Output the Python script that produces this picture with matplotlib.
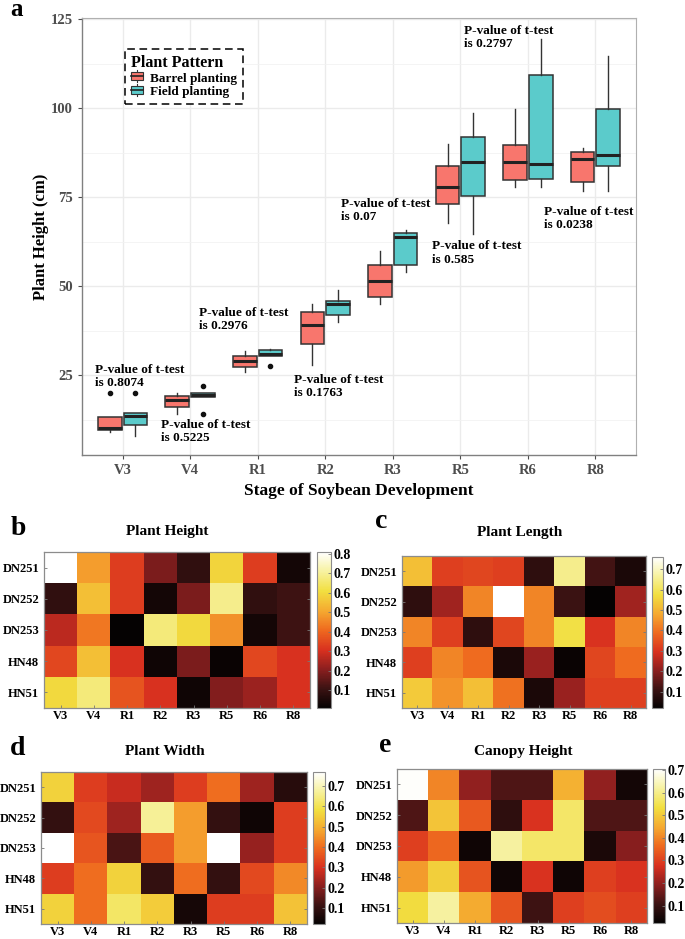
import matplotlib
matplotlib.use("Agg")
import matplotlib.pyplot as plt
import numpy as np
from matplotlib.patches import Rectangle
from matplotlib.lines import Line2D
from matplotlib.colors import LinearSegmentedColormap
from matplotlib.ticker import MultipleLocator

plt.rcParams['font.family'] = ['Liberation Serif', 'DejaVu Serif']
plt.rcParams['font.weight'] = 'bold'

STAGES = ["V3", "V4", "R1", "R2", "R3", "R5", "R6", "R8"]
CULTIVARS = ["DN251", "DN252", "DN253", "HN48", "HN51"]

# panel a - box stats (cm)
barrel_whislo = [9.0, 14.2, 26.0, 27.9, 45.0, 67.8, 77.9, 76.8]
barrel_q1 = [9.5, 16.0, 27.4, 33.9, 47.1, 73.0, 79.8, 79.3]
barrel_med = [10.3, 18.0, 28.9, 39.0, 51.4, 77.8, 84.8, 85.9]
barrel_q3 = [13.3, 19.2, 30.5, 42.8, 56.1, 83.9, 89.8, 87.7]
barrel_whishi = [13.3, 19.9, 31.9, 45.0, 59.8, 89.9, 99.7, 88.8]
barrel_fliers = [[20.0], [], [], [], [], [], [], []]

field_whislo = [8.0, 18.9, 30.4, 40.0, 53.9, 64.8, 77.9, 76.8]
field_q1 = [11.0, 18.9, 30.4, 41.9, 55.9, 75.4, 80.1, 83.9]
field_med = [13.6, 19.4, 31.1, 44.9, 63.9, 84.8, 84.5, 86.8]
field_q3 = [14.3, 20.0, 32.0, 45.9, 65.1, 91.9, 109.3, 99.8]
field_whishi = [14.5, 20.0, 32.4, 48.9, 65.9, 98.8, 119.6, 114.8]
field_fliers = [[20.0], [22.1, 14.1], [27.5], [], [], [], [], []]

p_values = ["0.8074", "0.5225", "0.2976", "0.1763", "0.07", "0.585", "0.2797", "0.0238"]
p_x = [0.59, 1.57, 2.13, 3.54, 4.24, 5.58, 6.05, 7.24]
p_y = [28.3, 12.8, 44.2, 25.5, 74.9, 62.9, 123.5, 72.7]

# heatmaps (rows = cultivars, cols = stages)
height_vals = np.array([
    [0.81, 0.49, 0.33, 0.19, 0.09, 0.59, 0.33, 0.04],
    [0.09, 0.55, 0.33, 0.04, 0.19, 0.69, 0.09, 0.11],
    [0.27, 0.43, 0.01, 0.67, 0.60, 0.47, 0.04, 0.11],
    [0.35, 0.55, 0.31, 0.03, 0.19, 0.02, 0.35, 0.31],
    [0.60, 0.67, 0.37, 0.31, 0.03, 0.20, 0.23, 0.31]])
length_vals = np.array([
    [0.52, 0.32, 0.33, 0.32, 0.09, 0.65, 0.12, 0.06],
    [0.09, 0.23, 0.43, 0.76, 0.43, 0.11, 0.02, 0.23],
    [0.43, 0.32, 0.09, 0.33, 0.43, 0.58, 0.30, 0.43],
    [0.32, 0.43, 0.39, 0.06, 0.22, 0.03, 0.33, 0.39],
    [0.54, 0.45, 0.52, 0.40, 0.06, 0.22, 0.32, 0.32]])
width_vals = np.array([
    [0.56, 0.32, 0.28, 0.23, 0.32, 0.40, 0.23, 0.08],
    [0.10, 0.34, 0.23, 0.67, 0.47, 0.10, 0.04, 0.32],
    [0.77, 0.36, 0.13, 0.37, 0.47, 0.77, 0.22, 0.32],
    [0.32, 0.40, 0.56, 0.10, 0.40, 0.10, 0.34, 0.44],
    [0.56, 0.40, 0.62, 0.55, 0.05, 0.32, 0.32, 0.53]])
canopy_vals = np.array([
    [0.70, 0.40, 0.20, 0.13, 0.13, 0.46, 0.20, 0.05],
    [0.13, 0.49, 0.34, 0.09, 0.28, 0.57, 0.13, 0.13],
    [0.30, 0.36, 0.04, 0.62, 0.57, 0.57, 0.06, 0.19],
    [0.43, 0.51, 0.33, 0.04, 0.28, 0.04, 0.30, 0.28],
    [0.53, 0.62, 0.45, 0.33, 0.11, 0.30, 0.32, 0.30]])

RED = "#F8766D"
CYAN = "#5BCBCB"
W, H = 685, 939

# a slightly muted "hot" like the scanned matlab colorbars
HOT = LinearSegmentedColormap.from_list("mhot", [
    (0.00, "#050202"), (0.12, "#3a1212"), (0.25, "#8c1f1f"), (0.37, "#d8301f"),
    (0.50, "#ef6a1f"), (0.62, "#f5a830"), (0.75, "#f2df40"), (0.88, "#f7f2a2"),
    (1.00, "#ffffff")])


def px_rect(left, top, right, bottom):
    # pixel box -> figure fraction
    return [left / W, 1 - bottom / H, (right - left) / W, (bottom - top) / H]


def box_stats(lo, q1, med, q3, hi, fl):
    return [dict(whislo=a, q1=b, med=c, q3=d, whishi=e, fliers=f)
            for a, b, c, d, e, f in zip(lo, q1, med, q3, hi, fl)]


class BoxKeyHandler:
    def legend_artist(self, legend, orig_handle, fontsize, handlebox):
        x0, y0 = handlebox.xdescent, handlebox.ydescent
        w, h = handlebox.width, handlebox.height
        cx = x0 + w / 2
        whisk = Line2D([cx, cx], [y0 - 1, y0 + h + 1], color="#333333", lw=0.8,
                       transform=handlebox.get_transform())
        rect = Rectangle((x0, y0 + 0.5), w, h - 1, facecolor=orig_handle.get_color(),
                         edgecolor="#333333", lw=0.8, transform=handlebox.get_transform())
        med = Line2D([x0, x0 + w], [y0 + h / 2, y0 + h / 2], color="#222222", lw=1.2,
                     transform=handlebox.get_transform())
        for a in (whisk, rect, med):
            handlebox.add_artist(a)
        return rect


fig = plt.figure(figsize=(6.85, 9.39), dpi=100)

# ---------------- panel a ----------------
ax = fig.add_axes(px_rect(82, 18, 636, 455))
pos = np.arange(1, len(STAGES) + 1)
for stats, off, col in [(box_stats(barrel_whislo, barrel_q1, barrel_med, barrel_q3,
                                   barrel_whishi, barrel_fliers), -0.19, RED),
                        (box_stats(field_whislo, field_q1, field_med, field_q3,
                                   field_whishi, field_fliers), 0.19, CYAN)]:
    ax.bxp(stats, positions=pos + off, widths=0.35, patch_artist=True, showcaps=False,
           boxprops=dict(facecolor=col, edgecolor="#333333", lw=1.1),
           whiskerprops=dict(color="#333333", lw=1.0),
           medianprops=dict(color="#222222", lw=2.2),
           flierprops=dict(marker="o", markersize=3, markerfacecolor="#111111",
                           markeredgecolor="#111111"),
           zorder=3)

for txt, x, y in zip(p_values, p_x, p_y):
    ax.text(x, y, "P-value of t-test\nis " + txt, ha="left", va="top",
            fontsize=9.5, fontweight="bold", linespacing=1.15, zorder=4)

ax.set_xlim(0.4, len(STAGES) + 0.6)
ax.set_ylim(2.6, 125.4)
ax.set_xticks(pos)
ax.set_xticklabels(STAGES)
ax.yaxis.set_minor_locator(MultipleLocator(12.5))
ax.set_yticks([25, 50, 75, 100, 125])
ax.grid(True, which="major", color="#EBEBEB", lw=1.0, zorder=0)
ax.grid(True, which="minor", axis="y", color="#F2F2F2", lw=0.6, zorder=0)
ax.set_axisbelow(True)
ax.tick_params(axis="both", which="major", colors="#4D4D4D", length=3, width=0.8,
               labelsize=10.5)
ax.tick_params(axis="y", which="minor", length=0)
for lab in ax.get_xticklabels() + ax.get_yticklabels():
    lab.set_fontweight("bold")
for side in ["top", "right"]:
    ax.spines[side].set_color("#B0B0B0")
for side in ["left", "bottom"]:
    ax.spines[side].set_color("#808080")
    ax.spines[side].set_linewidth(1.0)
ax.set_ylabel("Plant Height (cm)", fontsize=12, fontweight="bold", labelpad=1)
ax.set_xlabel("Stage of Soybean Development", fontsize=12.5, fontweight="bold", labelpad=4)

leg = ax.legend([Line2D([], [], color=RED), Line2D([], [], color=CYAN)],
                ["Barrel planting", "Field planting"], title="Plant Pattern",
                handler_map={Line2D: BoxKeyHandler()},
                loc="upper left", bbox_to_anchor=(0.066, 0.945), alignment="left",
                fontsize=9.5, title_fontproperties={"weight": "bold", "size": 11.5},
                handlelength=0.9, handleheight=0.8, handletextpad=0.5,
                labelspacing=0.1, borderpad=0.45, fancybox=False, framealpha=1)
leg.get_frame().set_edgecolor("black")
leg.get_frame().set_linestyle((0, (5, 3)))
leg.get_frame().set_linewidth(1.1)
fig.text(10 / W, 1 - 16 / H, "a", fontsize=18, fontweight="bold", va="baseline")


# ---------------- heatmaps ----------------
def heatmap(rect, cbar_rect, vals, vmin, vmax, cticks, title, title_xy, letter, letter_xy):
    hx = fig.add_axes(px_rect(*rect))
    im = hx.imshow(vals, cmap=HOT, vmin=vmin, vmax=vmax, aspect="auto",
                   interpolation="nearest")
    hx.set_xticks(np.arange(len(STAGES)))
    hx.set_xticklabels(STAGES)
    hx.set_yticks(np.arange(len(CULTIVARS)))
    hx.set_yticklabels(CULTIVARS)
    hx.tick_params(direction="in", length=2.5, width=0.6, color="#777777",
                   labelsize=9, right=True, top=False)
    hx.tick_params(axis="x", pad=1.5)
    for lab in hx.get_xticklabels() + hx.get_yticklabels():
        lab.set_fontweight("bold")
    for s in hx.spines.values():
        s.set_color("#8C8C8C")
        s.set_linewidth(0.9)
    cx = fig.add_axes(px_rect(*cbar_rect))
    cb = fig.colorbar(im, cax=cx, ticks=cticks)
    cb.outline.set_edgecolor("#8C8C8C")
    cb.outline.set_linewidth(0.8)
    cx.tick_params(direction="in", length=2, width=0.6, color="#777777", labelsize=10,
                   pad=2)
    cx.set_yticklabels(["%.1f" % t for t in cticks], fontweight="bold")
    fig.text(title_xy[0] / W, 1 - title_xy[1] / H, title, ha="center", va="baseline",
             fontsize=11, fontweight="bold")
    fig.text(letter_xy[0] / W, 1 - letter_xy[1] / H, letter, ha="left", va="baseline",
             fontsize=20, fontweight="bold")


heatmap((44, 552, 310, 708), (317, 552, 331, 708), height_vals, 0.01, 0.81,
        [0.1, 0.2, 0.3, 0.4, 0.5, 0.6, 0.7, 0.8], "Plant Height", (167, 535), "b", (11, 535))
heatmap((402, 556, 646, 708), (652, 557, 663, 708), length_vals, 0.02, 0.76,
        [0.1, 0.2, 0.3, 0.4, 0.5, 0.6, 0.7], "Plant Length", (520, 536), "c", (375, 528))
heatmap((41, 772, 307, 924), (313, 772, 325, 924), width_vals, 0.02, 0.77,
        [0.1, 0.2, 0.3, 0.4, 0.5, 0.6, 0.7], "Plant Width", (165, 755), "d", (10, 755))
heatmap((397, 769, 647, 923), (653, 769, 665, 923), canopy_vals, 0.024, 0.704,
        [0.1, 0.2, 0.3, 0.4, 0.5, 0.6, 0.7], "Canopy Height", (523, 755), "e", (379, 752))

fig.savefig("out.png", dpi=100)
